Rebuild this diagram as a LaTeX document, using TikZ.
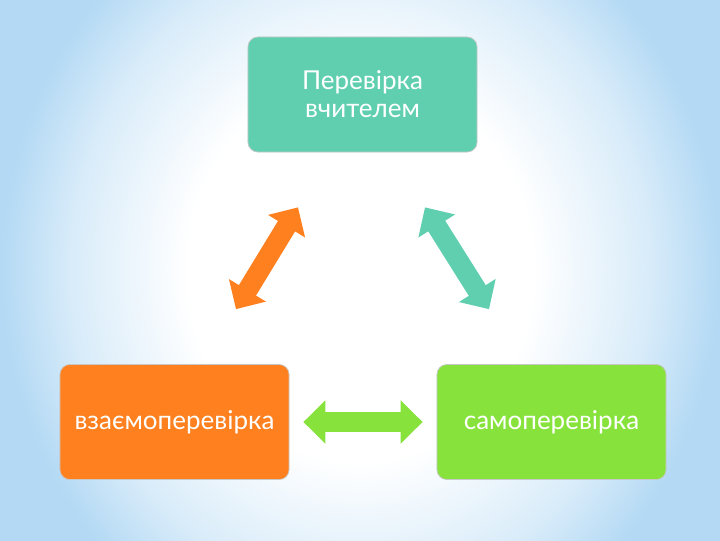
\documentclass[tikz,border=0pt]{standalone}
\usepackage{fontspec}
\setmainfont{Lato}
\usetikzlibrary{arrows.meta,calc}
\definecolor{ChkTeal}{HTML}{5FCFB0}
\definecolor{ChkOrange}{HTML}{FE801F}
\definecolor{ChkGreen}{HTML}{87E33C}
\definecolor{ChkSky}{HTML}{B3D9F4}
\pgfdeclareradialshading{skyglow}{\pgfpoint{0bp}{0bp}}{color(0bp)=(white);
  color(12bp)=(white); color(20bp)=(ChkSky!50); color(25bp)=(ChkSky);
  color(50bp)=(ChkSky)}

\begin{document}
\begin{tikzpicture}[x=0.025cm, y=-0.025cm,
  box/.style={draw=black!22, line width=0.5pt, rounded corners=7pt, fill=#1,
              minimum width=5.725cm, minimum height=2.875cm, text=white,
              font=\fontsize{18.5}{20}\selectfont, align=center},
  link/.style={draw=#1, line width=0.5cm,
               {Triangle[length=0.55cm,width=1.05cm]}-{Triangle[length=0.55cm,width=1.05cm]}}
]

% Backdrop
\useasboundingbox (0,0) rectangle (720,540);
\begin{scope}
  \clip (0,0) rectangle (720,540);
  \fill[shading=skyglow] (0,-130) rectangle (720,670);
\end{scope}

% Three kinds of checking
\node[box=ChkTeal] (teacher) at (362.5,94.5) {Перевірка\\вчителем};
\node[box=ChkOrange] (peer) at (174.5,422) {взаємоперевірка};
\node[box=ChkGreen] (self) at (551.5,422) {самоперевірка};

% Arrow ends
\coordinate (peerup) at ($(peer.north)+(61.5,-55)$);
\coordinate (teachl) at ($(teacher.south)+(-64.5,55)$);
\coordinate (teachr) at ($(teacher.south)+(62.5,55)$);
\coordinate (selfup) at ($(self.north)+(-62.5,-55)$);
\coordinate (peerr) at ($(peer.east)+(14,0)$);
\coordinate (selfl) at ($(self.west)+(-14,0)$);

% Double arrows
\draw[link=ChkOrange] (peerup) -- (teachl);
\draw[link=ChkTeal] (teachr) -- (selfup);
\draw[link=ChkGreen] (peerr) -- (selfl);

\end{tikzpicture}
\end{document}
